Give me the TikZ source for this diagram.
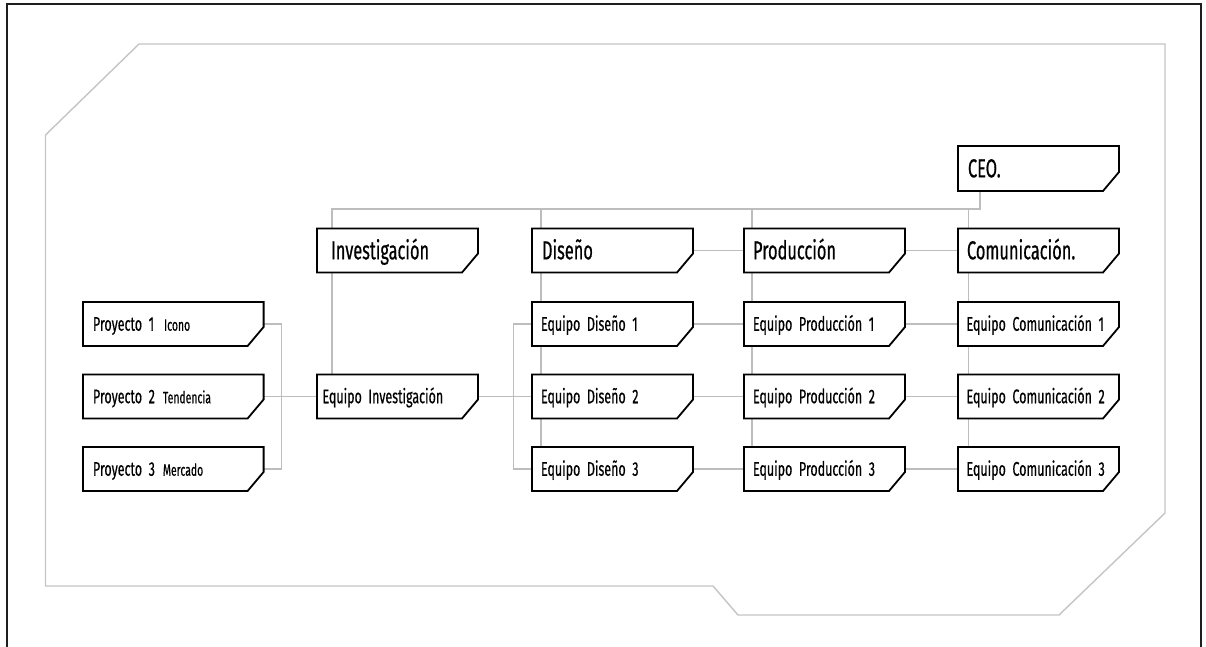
\documentclass[tikz,border=0pt]{standalone}
\usepackage{fontspec}
\setmainfont{Fira Sans}[FakeStretch=0.63, FakeBold=0.5, WordSpace=0.8]
\usetikzlibrary{backgrounds}
\newcommand\fbig{\fontsize{26}{30}\selectfont}
\newcommand\fmid{\fontsize{19.8}{22}\selectfont}
\newcommand\fsml{\fontsize{16.5}{18}\selectfont}
\definecolor{wire}{HTML}{BDBDBD}
\definecolor{hull}{HTML}{C4C4C4}
\definecolor{frameink}{HTML}{1E1E1E}
\tikzset{
  tag/.style={fill=white, anchor=north west, inner ysep=0pt, inner xsep=9pt,
    outer sep=0pt, text width=143pt, align=left, minimum height=44pt,
    text depth=0pt,
    execute at begin node=\hbox\bgroup, execute at end node=\egroup},
  tagbig/.style={tag, font=\fbig, text height=17.7pt},
  tagmid/.style={tag, font=\fmid, text height=13.5pt},
  wire/.style={draw=wire, line width=1.5pt},
  outline/.style={draw=black, line width=1.8pt, line join=miter},
}
\begin{document}
\begin{tikzpicture}[x=1pt,y=-1pt]
\path[use as bounding box] (0,0) rectangle (1206,647);
% page frame
\draw[frameink, line width=2pt] (6.5,647) -- (6.5,4) -- (1201,4) -- (1201,647);
% light hull around the chart
\draw[hull, line width=1.4pt] (139,44) -- (1165,44) -- (1165,513) -- (1059,615)
  -- (738,615) -- (713,586) -- (45.5,586) -- (45.5,135) -- cycle;

% top level
\node[tagbig, minimum height=45pt, inner xsep=10pt, text width=141pt] (ceo) at (958,146) {CEO.};
% departments
\node[tagbig, inner xsep=14pt, text width=133pt] (inv) at (317,228.5) {Investigación};
\node[tagbig, inner xsep=10pt, text width=141pt] (dis) at (532,228.5) {Diseño};
\node[tagbig] (prod) at (744,228.5) {Producción};
\node[tagbig] (com) at (958,228.5) {Comunicación.};
% teams
\node[tagmid, inner xsep=5.5pt, text width=150pt] (eqi) at (317,374.5) {Equipo Investigación};
\node[tagmid] (eqd1) at (532,302) {Equipo Diseño 1};
\node[tagmid] (eqd2) at (532,374.5) {Equipo Diseño 2};
\node[tagmid] (eqd3) at (532,447) {Equipo Diseño 3};
\node[tagmid] (eqp1) at (744,302) {Equipo Producción 1};
\node[tagmid] (eqp2) at (744,374.5) {Equipo Producción 2};
\node[tagmid] (eqp3) at (744,447) {Equipo Producción 3};
\node[tagmid, inner xsep=8.5pt, text width=144pt] (eqc1) at (958,302) {Equipo Comunicación 1};
\node[tagmid, inner xsep=8.5pt, text width=144pt] (eqc2) at (958,374.5) {Equipo Comunicación 2};
\node[tagmid, inner xsep=8.5pt, text width=144pt] (eqc3) at (958,447) {Equipo Comunicación 3};
% projects
\node[tagmid, inner xsep=10pt, text width=160.6pt] (pr1) at (83,302) {Proyecto 1\hspace{10pt}{\fsml Icono}};
\node[tagmid, inner xsep=10pt, text width=160.6pt] (pr2) at (83,374.5) {Proyecto 2\hspace{8pt}{\fsml Tendencia}};
\node[tagmid, inner xsep=10pt, text width=160.6pt] (pr3) at (83,447) {Proyecto 3\hspace{8pt}{\fsml Mercado}};

% box outlines with the lower right corner cut off
\foreach \n in {ceo,inv,dis,prod,com,eqi,eqd1,eqd2,eqd3,eqp1,eqp2,eqp3,eqc1,eqc2,eqc3,pr1,pr2,pr3}
  \draw[outline] (\n.north west) -- (\n.north east) -- ([yshift=19pt]\n.south east)
    -- ([xshift=-16pt]\n.south east) -- (\n.south west) -- cycle;

\begin{scope}[on background layer]
  \coordinate (bus) at (0,209);
  \coordinate (ceoB) at ([xshift=22pt]ceo.south west);
  \coordinate (invT) at ([xshift=15pt]inv.north west);
  \coordinate (disT) at ([xshift=9pt]dis.north west);
  \coordinate (prodT) at ([xshift=8pt]prod.north west);
  \coordinate (comT) at ([xshift=10.5pt]com.north west);
  \coordinate (dbr) at (513.3,0);
  \coordinate (pbr) at (281.7,0);
  % CEO to departments
  \draw[wire] (ceoB) -- (ceoB |- bus) -- (invT |- bus) -- (invT);
  \draw[wire] (disT |- bus) -- (disT);
  \draw[wire] (prodT |- bus) -- (prodT);
  \draw[wire] (comT |- bus) -- (comT);
  % department columns
  \draw[wire] (invT) -- (invT |- eqi.north);
  \draw[wire] (disT) -- (disT |- eqd3.north);
  \draw[wire] (prodT) -- (prodT |- eqp3.north);
  \draw[wire] (comT) -- (comT |- eqc3.north);
  % rows
  \draw[wire] (dis.east) -- (prod.west);
  \draw[wire] (prod.east) -- (com.west);
  \foreach \i in {1,2,3} {
    \draw[wire] (eqd\i.east) -- (eqp\i.west);
    \draw[wire] (eqp\i.east) -- (eqc\i.west);
  }
  % research team to design teams
  \draw[wire] (eqd1.west) -- (eqd1.west -| dbr) -- (eqd3.west -| dbr) -- (eqd3.west);
  \draw[wire] (eqi.east) -- (eqd2.west);
  % projects to research team
  \draw[wire] (pr1.east) -- (pr1.east -| pbr) -- (pr3.east -| pbr) -- (pr3.east);
  \draw[wire] (pr2.east) -- (eqi.west);
\end{scope}
\end{tikzpicture}
\end{document}
